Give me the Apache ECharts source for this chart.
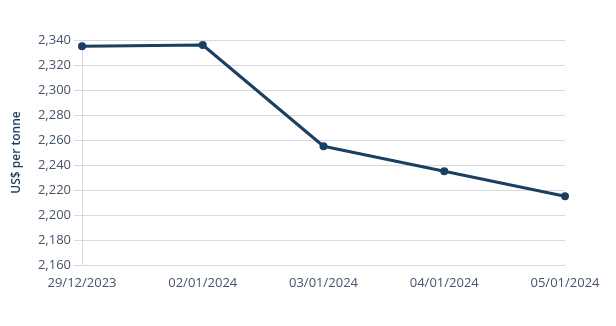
<!DOCTYPE html>
<html><head><meta charset="utf-8">
<script src="https://cdn.jsdelivr.net/npm/echarts@6/dist/echarts.min.js"></script>
<style>html,body{margin:0;padding:0;background:#fff}#c{width:616px;height:326px}</style>
</head><body><div id="c"></div>
<script>
const categories = ['29/12/2023','02/01/2024','03/01/2024','04/01/2024','05/01/2024'];
const prices = [2335, 2336, 2255, 2235, 2215];
const yMin = 2160, yMax = 2340, yStep = 20;
const chart = echarts.init(document.getElementById('c'), null, {renderer:'canvas'});
chart.setOption({
  animation:false,
  grid:{left:82,right:51,top:40,bottom:61},
  xAxis:{type:'category',data:categories,boundaryGap:false,
    axisLine:{lineStyle:{color:'#d5dae1'}},axisTick:{show:false},
    axisLabel:{color:'#44546a',fontFamily:'Open Sans',fontSize:13,margin:12}},
  yAxis:{type:'value',min:yMin,max:yMax,interval:yStep,
    name:'US$ per tonne',nameLocation:'middle',nameGap:59,
    nameTextStyle:{color:'#1f3b5a',fontFamily:'Open Sans',fontSize:12,fontWeight:600},
    axisLine:{show:true,lineStyle:{color:'#d5dae1'}},
    axisTick:{show:true,length:8,lineStyle:{color:'#d5dae1'}},
    splitLine:{lineStyle:{color:'#d5dae1'}},
    axisLabel:{color:'#44546a',fontFamily:'Open Sans',fontSize:13,margin:11,
      formatter:v=>v.toLocaleString('en-US')}},
  series:[{type:'line',data:prices,symbol:'circle',symbolSize:8,
    lineStyle:{color:'#1b3f63',width:3},itemStyle:{color:'#1b3f63'}}]
});
</script></body></html>
